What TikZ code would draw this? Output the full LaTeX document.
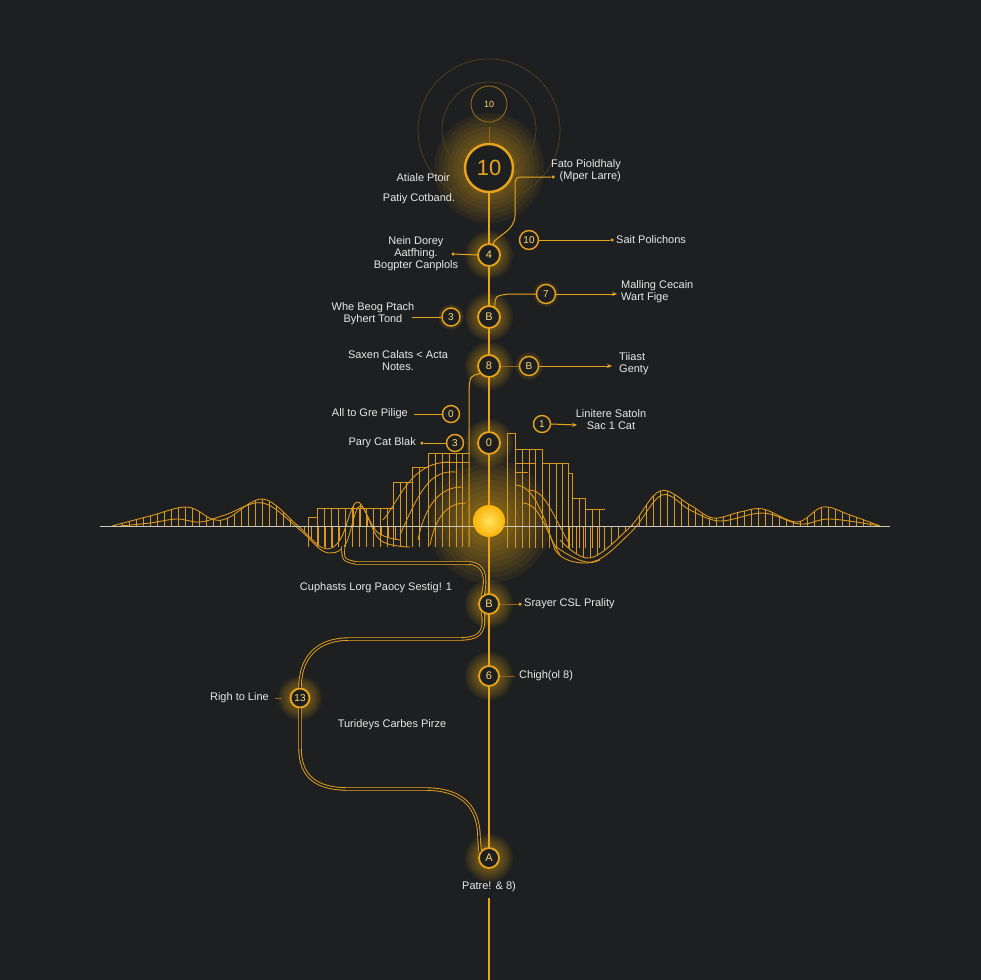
\documentclass[tikz,border=0pt]{standalone}
\usepackage{fontspec}
\setmainfont{Liberation Sans}
\usetikzlibrary{arrows.meta}
\definecolor{bg}{RGB}{30,31,33}
\definecolor{gold}{RGB}{232,165,28}
\definecolor{wavec}{RGB}{218,152,28}
\definecolor{dimgold}{RGB}{150,105,25}
\definecolor{faint}{RGB}{85,66,30}
\definecolor{glowc}{RGB}{255,185,15}
\definecolor{txt}{RGB}{232,232,230}
\definecolor{numc}{RGB}{255,215,110}
\definecolor{basec}{RGB}{205,200,188}
\newcommand\myglow[3]{\foreach \k in {1,...,12}{\pgfmathsetmacro\rr{#3*\k/12}\fill[glowc,opacity=0.06] (#1,#2) circle[radius=\rr pt];}}
\begin{document}
\begin{tikzpicture}[x=1pt,y=-1pt,
 wire/.style={draw=gold,line width=1.4pt},
 thinwire/.style={draw=gold,line width=1pt},
 dimwire/.style={draw=dimgold,line width=0.8pt},
 dbl/.style={draw=gold,line width=0.9pt,double=bg,double distance=1.6pt},
 stop/.style={circle,draw=gold,fill=bg,line width=1.8pt,minimum size=22pt,inner sep=0pt,text=numc,font=\fontsize{11}{11}\selectfont},
 side/.style={circle,draw=gold,fill=bg,line width=1.4pt,minimum size=19pt,inner sep=0pt,text=numc,font=\fontsize{10}{10}\selectfont},
 lbl/.style={text=txt,font=\fontsize{11}{12}\selectfont,inner sep=0pt},
 dotn/.style={circle,fill=gold,inner sep=0pt,minimum size=3.5pt},
 arr/.style={-{Stealth[length=5pt,width=4pt]}},
 bar/.style={draw=wavec,line width=0.9pt},
]
\useasboundingbox (0,0) rectangle (980,980);
\fill[bg] (-10,-10) rectangle (990,990);

% glows
\myglow{489}{168}{55}
\myglow{489}{521}{62}
\foreach \yy in {255,317,366,443,604,676,858}{\myglow{489}{\yy}{24}}
\myglow{300}{698}{22}
\myglow{529}{366}{14}
\myglow{451}{317}{13}
\myglow{546}{294}{13}

% faint top circles
\draw[faint,line width=0.7pt] (489,130) circle[radius=71pt];
\draw[faint,line width=0.7pt] (489,129) circle[radius=47pt];
\draw[faint,line width=0.7pt] (489,165) circle[radius=37pt];

% ---- wave and bars ----
\begin{scope}
\clip plot[smooth,tension=0.6] coordinates {(112,526)(150,516)(187,507)(212,519)(228,518)(263,499)(297,525)(323,548)(340,540)(357,502)(377,532)(400,540)} -- (400,526) -- cycle;
\foreach \x in {115,122,...,400}{\draw[bar,line width=0.7pt] (\x,470) -- (\x,570);}
\end{scope}
\begin{scope}
\clip plot[smooth,tension=0.6] coordinates {(560,540)(590,558)(630,527)(660,491)(690,505)(713,518)(740,512)(763,509)(797,522)(823,507)(850,515)(880,526)} -- (560,526) -- cycle;
\foreach \x in {562,569,...,880}{\draw[bar,line width=0.7pt] (\x,470) -- (\x,575);}
\end{scope}
\draw[bar] plot[smooth,tension=0.6] coordinates {(112,526)(150,516)(187,507)(212,519)(228,518)(263,499)(297,525)(323,548)(340,540)(357,502)(377,532)(400,540)};
\draw[bar] plot[smooth,tension=0.6] coordinates {(120,526)(150,523)(177,519)(200,522)(225,515)(263,503)(300,530)(325,552)(345,545)(360,506)(380,540)(410,547)};
\draw[bar] plot[smooth,tension=0.6] coordinates {(560,540)(590,558)(630,527)(660,491)(690,505)(713,518)(740,512)(763,509)(797,522)(823,507)(850,515)(880,526)};
\draw[bar] plot[smooth,tension=0.6] coordinates {(555,546)(592,562)(632,531)(662,495)(690,510)(720,521)(763,513)(800,524)(830,519)(880,526)};
% left bars
\foreach \x/\t in {308/517,317/508,324/508,331/508,338/508,345/508,352/508,359/508,366/508,373/508,380/508,387/508,393/482,400/482,406/482,412/467,419/467,428/453,435/453,442/453,449/453,456/453,462/453}{\draw[bar] (\x,\t) -- (\x,547);}
\draw[bar] (308,547) -- (308,517) -- (317,517) -- (317,508) -- (393,508) -- (393,482) -- (412,482) -- (412,467) -- (428,467) -- (428,453) -- (469,453);
\draw[bar] (442,462) -- (469,462);
% right bars
\foreach \x/\t in {507/433,515/449,522/449,529/449,535/449,542/463,549/463,556/463,562/463,568/473,572/498,579/498,585/509,592/509,599/509}{\draw[bar] (\x,\t) -- (\x,548);}
\draw[bar] (507,548) -- (507,433) -- (515,433) -- (515,449) -- (542,449) -- (542,463) -- (568,463) -- (568,473) -- (572,473) -- (572,498) -- (585,498) -- (585,509) -- (605,509);
\draw[bar] (515,463) -- (535,463);
\draw[bar] (515,472) -- (528,472);
% fan curves
\draw[bar] (456,472) .. controls (430,470) and (420,490) .. (400,535);
\draw[bar] (462,487) .. controls (440,487) and (425,505) .. (418,540);
\draw[bar] (466,503) .. controls (445,503) and (435,520) .. (430,545);
\draw[bar] (450,462) .. controls (410,462) and (400,500) .. (383,520);
\draw[bar] (515,485) .. controls (535,485) and (545,520) .. (555,550) .. controls (565,565) and (590,565) .. (600,560);
\draw[bar] (528,490) .. controls (545,490) and (550,510) .. (570,545);
\draw[bar] (522,503) .. controls (540,503) and (545,530) .. (560,555);
% baseline
\draw[basec,line width=0.9pt] (100,526) -- (890,526);

% ---- nodes ----
\node[circle,draw=dimgold,line width=0.9pt,minimum size=36pt,inner sep=0pt,text=numc,font=\fontsize{9}{9}\selectfont] (ntop) at (489,104) {10};
\node[circle,draw=gold,fill=bg,line width=2.4pt,minimum size=48pt,inner sep=0pt,text=gold,font=\fontsize{22}{22}\selectfont] (n10) at (489,168) {10};
\node[stop] (n4) at (489,255) {4};
\node[stop] (nB) at (489,317) {B};
\node[stop] (n8) at (489,366) {8};
\node[stop] (n0) at (489,443) {0};
\node[circle,minimum size=32pt,inner sep=0pt,shade,shading=radial,inner color={rgb,255:red,255;green,228;blue,95},outer color={rgb,255:red,250;green,178;blue,10}] (sun) at (489,521) {};
\node[stop,minimum size=20pt] (nB3) at (489,604) {B};
\node[stop,minimum size=20pt] (n6) at (489,676) {6};
\node[stop,minimum size=20pt] (nA) at (489,858) {A};
\node[side] (n10b) at (529,240) {10};
\node[side] (n7) at (546,294) {7};
\node[side] (nB2) at (529,366) {B};
\node[side,minimum size=17pt] (n1) at (542,424) {1};
\node[side,minimum size=18pt] (n3a) at (451,317) {3};
\node[side,minimum size=17pt] (n0a) at (451,414) {0};
\node[side,minimum size=17pt] (n3b) at (455,443) {3};
\node[stop,minimum size=19pt,font=\fontsize{10}{10}\selectfont] (n13) at (300,698) {13};

\coordinate (tailtop) at (489,898);
\coordinate (tailend) at (489,980);
\node[dotn] (dF) at (553,177) {};
\node[dotn] (dS) at (612,240) {};
\coordinate (aM) at (617,294);
\coordinate (aT) at (612,366);
\coordinate (aL) at (577,425);
\node[dotn] (dN) at (453,254) {};
\coordinate (cW) at (412,317);
\coordinate (cA) at (414,414);
\node[dotn] (dP) at (422,443) {};
\coordinate (cbar) at (469,547);
\node[dotn] (dC) at (520,604) {};
\coordinate (cCh) at (515,676);
\coordinate (cR1) at (275,698);
\coordinate (cR2) at (282,698);
\coordinate (wv) at (343,546);

% ---- connectors ----
\draw[dimwire,shorten <=5pt] (ntop.south) -- (n10.north);
\draw[wire] (n10.south) -- (n4.north);
\draw[wire] (n4.south) -- (nB.north);
\draw[wire] (nB.south) -- (n8.north);
\draw[wire] (n8.south) -- (n0.north);
\draw[wire] (n0.south) -- (sun.north);
\draw[wire] (sun.south) -- (nB3.north);
\draw[wire] (nB3.south) -- (n6.north);
\draw[wire] (n6.south) -- (nA.north);
\draw[wire] (tailtop) -- (tailend);

\draw[thinwire] (n4.70) .. controls (495,236) and (515,232) .. (515,215) -- (515,188) .. controls (515,177) .. (527,177) -- (dF);
\draw[thinwire] (n10b.east) -- (dS);
\draw[thinwire] (nB.60) .. controls (495,296) .. (508,294) -- (n7.west);
\draw[thinwire,arr] (n7.east) -- (aM);
\draw[dimwire] (n8.east) -- (nB2.west);
\draw[thinwire,arr] (nB2.east) -- (aT);
\draw[thinwire,arr] (n1.east) -- (aL);
\draw[thinwire] (dN) -- (n4.west);
\draw[thinwire] (cW) -- (n3a.west);
\draw[thinwire] (cA) -- (n0a.west);
\draw[thinwire] (dP) -- (n3b.west);
\draw[thinwire] (n8.220) .. controls (470,376) .. (469,390) -- (cbar);
\draw[dimwire] (nB3.east) -- (dC);
\draw[dimwire] (n6.east) -- (cCh);
\draw[dimwire] (cR1) -- (cR2);

\draw[dbl] (wv) .. controls (343,560) .. (356,563) -- (468,563) .. controls (485,563) and (487,578) .. (nB3.125);
\draw[dbl] (nB3.235) .. controls (486,634) and (478,639) .. (458,639) -- (350,639) .. controls (310,639) and (300,665) .. (n13.north);
\draw[dbl] (n13.south) -- (300,748) .. controls (300,778) and (318,789) .. (348,789) -- (425,789) .. controls (470,789) and (479,815) .. (479,838) -- (nA.145);

% ---- labels ----
\node[lbl,anchor=east] (tAt) at (450,178) {Atiale Ptoir};
\node[lbl] (tPa) at (419,199) {Patiy Cotband.};
\node[lbl,align=right,anchor=east] (tFa) at (621,171) {Fato Pioldhaly\\(Mper Larre)};
\node[lbl,anchor=west] (tSa) at (616,240) {Sait Polichons};
\node[lbl,align=center] (tNe) at (416,254) {Nein Dorey\\Aatfhing.\\Bogpter Canplols};
\node[lbl,align=left,anchor=west] (tMa) at (621,292) {Malling Cecain\\Wart Fige};
\node[lbl,align=center] (tWh) at (373,314) {Whe Beog Ptach\\Byhert Tond};
\node[lbl,align=center] (tSx) at (398,361) {Saxen Calats < Acta\\Notes.};
\node[lbl,align=left,anchor=west] (tTi) at (619,364) {Tiiast\\Genty};
\node[lbl,anchor=east] (tAl) at (408,414) {All to Gre Pilige};
\node[lbl,align=center] (tLi) at (611,420) {Linitere Satoln\\Sac 1 Cat};
\node[lbl,anchor=east] (tPy) at (416,443) {Pary Cat Blak};
\node[lbl] (tCu) at (376,588) {Cuphasts Lorg Paocy Sestig! 1};
\node[lbl,anchor=west] (tSr) at (524,604) {Srayer CSL Prality};
\node[lbl,anchor=west] (tCh) at (519,676) {Chigh(ol 8)};
\node[lbl,anchor=east] (tRi) at (269,698) {Righ to Line};
\node[lbl] (tTu) at (392,725) {Turideys Carbes Pirze};
\node[lbl] (tPt) at (489,887) {Patre! \& 8)};
\end{tikzpicture}
\end{document}
